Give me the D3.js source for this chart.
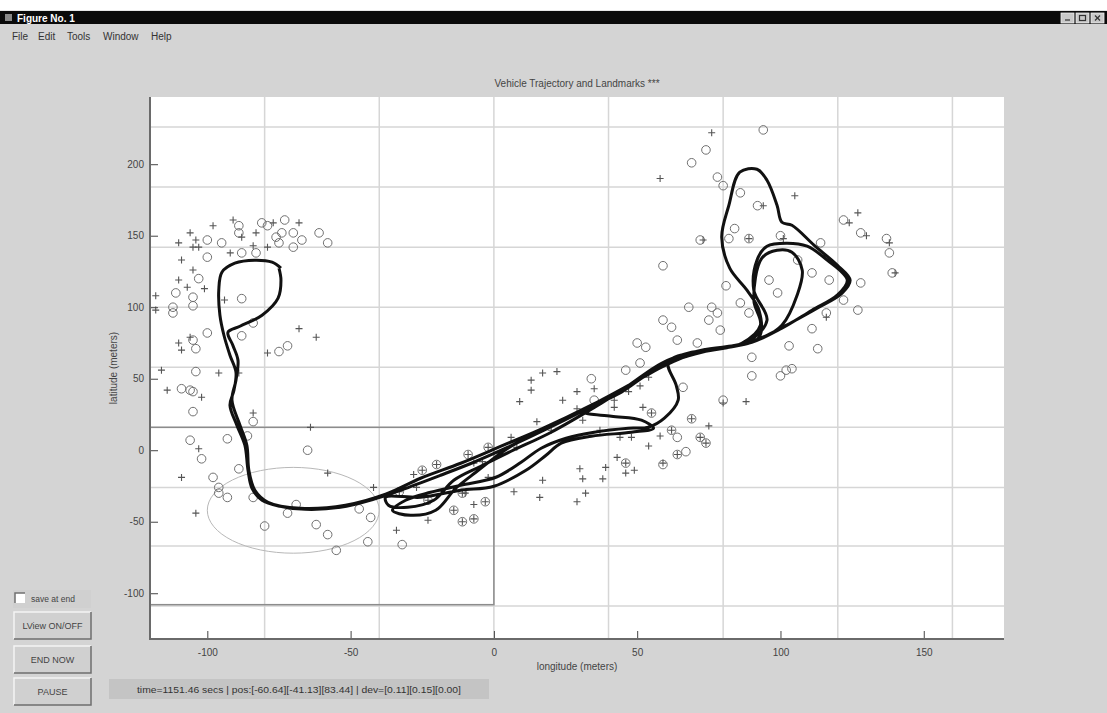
<!DOCTYPE html>
<html><head><meta charset="utf-8">
<script src="https://cdn.jsdelivr.net/npm/d3@7"></script>
<style>
html,body{margin:0;padding:0;background:#d4d4d4;}
svg{display:block;font-family:"Liberation Sans",Arial,sans-serif;}
</style></head>
<body>
<svg id="fig" width="1107" height="713"></svg>
<script>
// ---------------- data ----------------
const chartTitle = "Vehicle Trajectory and Landmarks ***";
const xLabel = "longitude (meters)";
const yLabel = "latitude (meters)";
const xTicks = [-100, -50, 0, 50, 100, 150];
const yTicks = [-100, -50, 0, 50, 100, 150, 200];
const xDomain = [-120, 178];
const yDomain = [-132, 247];
const gridX = [-80, -40, 0, 40, 80, 120, 160];
const gridY = [226, 184, 142, 100, 58, 16, -26, -67, -109];
const regionBox = {x0: -120, x1: 0, y0: -108, y1: 16};
const uncertainty = {cx: -70, cy: -42, r: 30};
const menuItems = ["File", "Edit", "Tools", "Window", "Help"];
const buttons = ["LView ON/OFF", "END NOW", "PAUSE"];
const statusText = "time=1151.46 secs | pos:[-60.64][-41.13][83.44] | dev=[0.11][0.15][0.00]";

const trajectory = [[-74.3,127.3],[-77.4,131.5],[-83.4,132.9],[-90.4,130.8],[-94.9,124.5],[-96.0,111.9],[-95.6,94.4],[-94.2,80.4],[-92.1,66.4],[-90.0,54.5],[-90.7,42.0],[-92.1,31.5],[-89.7,17.5],[-86.9,3.5],[-85.8,-14.0],[-84.4,-26.6],[-80.9,-35.0],[-74.6,-39.2],[-65.8,-41.3],[-53.6,-39.9],[-42.0,-34.3],[-32.6,-28.0],[-18.6,-17.5],[-7.0,-8.4],[4.9,2.1],[17.5,14.0],[31.5,28.0],[44.5,42.0],[58.5,60.8],[69.0,68.5],[82.0,72.0],[92.5,79.0],[92.5,97.9],[88.3,111.9],[82.3,127.3],[79.5,149.0],[82.0,171.3],[85.8,194.4],[91.8,196.5],[95.3,188.8],[98.8,171.3],[100.5,159.4],[104.0,157.3],[111.7,143.4],[119.8,129.4],[124.3,118.9],[121.5,109.8],[112.8,99.3],[104.0,89.5],[95.3,80.4],[86.5,74.1],[72.5,69.9],[60.9,61.5],[63.6,45.5],[64.3,35.0],[59.5,22.4],[53.9,16.1],[46.9,15.4],[35.0,12.6],[25.2,8.4],[16.5,1.4],[9.5,-8.4],[0.7,-18.9],[-11.6,-24.5],[-22.1,-29.4],[-30.8,-35.0],[-35.4,-42.0],[-29.1,-45.5],[-20.3,-42.0],[-13.3,-26.6],[-6.3,-15.4],[4.9,1.4],[18.2,15.4],[32.2,29.4],[46.2,44.1],[59.2,61.5],[72.5,69.9],[88.3,75.5],[95.3,90.9],[90.7,111.9],[91.8,132.9],[95.3,142.7],[102.3,144.8],[109.3,142.7],[116.3,132.9],[123.3,118.9],[119.8,108.4],[111.0,97.9],[100.5,85.3],[90.0,75.5],[72.5,68.5],[58.5,59.4],[51.5,50.3],[44.5,40.6],[34.0,30.1],[31.5,26.6],[41.0,23.8],[51.5,21.0],[55.7,15.4],[48.0,12.6],[34.0,9.8],[23.5,4.9],[18.2,-3.5],[11.2,-14.0],[0,-25.2],[-11.6,-28.0],[-25.6,-32.9],[-37.8,-32.9],[-36.8,-38.5],[-30.1,-39.9],[-21.0,-35.0],[-14.0,-21.0],[-4.6,-11.2],[6.0,-0.7],[20.0,12.6],[37.5,32.9],[55.0,54.5],[69.0,67.1],[86.5,74.8],[93.0,87.4],[90.7,104.9],[93.5,134.3],[98.8,139.9],[104.0,138.5],[107.6,125.9],[105.8,108.4],[100.5,87.4],[93.5,78.3],[79.5,71.3],[65.5,65.0],[51.5,50.3],[34.0,31.5],[16.5,14.7],[2.5,2.8],[-11.6,-9.1],[-25.6,-19.6],[-37.8,-30.8],[-51.8,-38.5],[-67.6,-40.6],[-78.8,-36.4],[-83.4,-28.0],[-85.5,-14.0],[-86.2,3.5],[-88.6,17.5],[-91.4,35.0],[-90.0,49.0],[-89.3,62.9],[-91.1,73.4],[-92.8,82.5],[-88.6,86.7],[-80.9,94.4],[-75.3,106.3],[-74.3,118.9],[-75.0,127.3]];

const landmarkCircles = [[-89,157],[-89,152],[-81,159],[-79,157],[-73,161],[-74,152],[-70,152],[-76,149],[-75,145],[-70,142],[-67,147],[-61,152],[-58,145],[-83,138],[-88,138],[-95,145],[-100,135],[-100,147],[-103,120],[-105,107],[-105,101],[-111,110],[-112,96],[-112,100],[-88,106],[-84,89],[-100,82],[-88,80],[-104,71],[-105,77],[-72,73],[-75,69],[-104,55],[-105,41],[-109,43],[-106,42],
[-105,27],[-106,7],[-93,8],[-102,-6],[-98,-19],[-96,-26],[-93,-33],[-96,-30],[-89,-13],[-84,-33],[-65,0],[-72,-44],[-69,-38],[-80,-53],[-62,-52],[-58,-59],[-55,-70],[-44,-64],[-43,-47],[-47,-41],[-32,-66],[-84,20],[-86,10],
[-33,-29],[-25,-14],[-20,-10],[-14,-42],[-11,-50],[-7,-48],[-3,-36],[-11,-30],[-23,-35],[-2,2],[-9,-3],
[50,75],[53,72],[64,77],[71,75],[46,56],[51,61],[34,50],[66,44],[55,26],[62,14],[64,9],[69,22],[72,9],[74,5],[64,-3],[67,-1],[59,-10],[46,-9],[35,35],
[94,224],[74,210],[69,201],[78,191],[80,185],[86,180],[92,171],[122,161],[128,152],[137,148],[138,138],[139,124],[128,117],[127,98],[122,105],[116,96],[111,85],[113,71],[103,73],[102,56],[100,52],[104,57],[90,52],[90,65],[79,84],[75,91],[68,100],[62,86],[86,103],[89,96],[81,115],[96,119],[99,110],[106,133],[111,124],[117,119],[84,155],[89,148],[82,148],[72,147],[100,150],[114,145],[76,100],[78,96],[80,35],[59,129],[59,91]];

const landmarkPluses = [[-91,161],[-98,157],[-106,152],[-110,145],[-104,147],[-105,142],[-103,142],[-83,152],[-77,159],[-68,159],[-88,149],[-84,143],[-92,138],[-79,142],[-109,133],[-105,126],[-110,119],[-107,114],[-101,113],[-118,108],[-118,98],[-94,105],[-106,79],[-110,75],[-109,70],[-68,85],[-62,79],[-79,68],[-116,56],[-114,42],[-96,54],[-89,54],
[-102,37],[-103,1],[-109,-19],[-104,-44],[-84,26],[-64,16],[-58,-16],[-42,-26],[-34,-56],[-33,-29],[-28,-17],[-25,-14],[-20,-10],[-9,-3],[-2,2],[-4,-8],[-14,-42],[-23,-49],[-11,-50],[-7,-48],[-3,-36],[-11,-30],[-23,-35],[-27,-26],
[13,49],[17,54],[22,55],[13,42],[9,34],[24,35],[29,41],[35,43],[29,29],[42,35],[42,30],[52,30],[47,41],[51,45],[54,51],[15,20],[20,14],[31,21],[37,14],[44,9],[48,9],[58,10],[54,3],[43,-5],[39,-12],[30,-13],[31,-20],[38,-20],[46,-9],[46,-16],[49,-14],[59,-9],[17,-21],[16,-33],[7,-29],[32,-30],[29,-36],[-2,-19],[-10,-30],[-7,-38],[-7,-9],[6,9],[8,2],
[55,26],[62,14],[69,22],[72,9],[74,5],[64,-3],
[76,222],[105,178],[127,166],[124,159],[130,150],[138,145],[140,124],[58,190],[88,34],[80,33],[75,17],[116,93],[73,147],[89,148],[94,171],[101,148]];

// ---------------- layout ----------------
const svg = d3.select("#fig");
const W = 1107, H = 713;
const plot = {left: 150, right: 1004, top: 97, bottom: 639};
const x = d3.scaleLinear().domain(xDomain).range([plot.left, plot.right]);
const y = d3.scaleLinear().domain(yDomain).range([plot.bottom, plot.top]);

svg.append("rect").attr("width", W).attr("height", H).attr("fill", "#d4d4d4");

// window chrome
svg.append("rect").attr("x",0).attr("y",0).attr("width",W).attr("height",10).attr("fill","#ffffff");
svg.append("rect").attr("x",0).attr("y",10).attr("width",W).attr("height",1).attr("fill","#e6e6e6");
svg.append("rect").attr("x",0).attr("y",11).attr("width",W).attr("height",13).attr("fill","#0a0a0a");
svg.append("rect").attr("x",5).attr("y",14).attr("width",7).attr("height",7).attr("fill","#888");
svg.append("text").attr("x",17).attr("y",21.5).attr("fill","#fff").attr("font-size",10).attr("font-weight","bold").text("Figure No. 1");
[1061,1076,1091].forEach((bx,i)=>{
  svg.append("rect").attr("x",bx).attr("y",13).attr("width",13).attr("height",10).attr("fill","#c8c8c8").attr("stroke","#eee").attr("stroke-width",0.8);
  const g = svg.append("g").attr("stroke","#333").attr("stroke-width",1.2).attr("fill","none");
  if(i===0) g.append("line").attr("x1",bx+4).attr("x2",bx+9).attr("y1",20).attr("y2",20);
  if(i===1) g.append("rect").attr("x",bx+3.5).attr("y",15.5).attr("width",6).attr("height",5);
  if(i===2){ g.append("line").attr("x1",bx+4).attr("x2",bx+9).attr("y1",15.5).attr("y2",20.5); g.append("line").attr("x1",bx+9).attr("x2",bx+4).attr("y1",15.5).attr("y2",20.5);}
});
const menuX = [12, 38, 67, 103, 151];
menuItems.forEach((m,i)=>{
  svg.append("text").attr("x",menuX[i]).attr("y",40).attr("font-size",10).attr("fill","#333").text(m);
});

// plot area
svg.append("rect").attr("x",plot.left).attr("y",plot.top).attr("width",plot.right-plot.left).attr("height",plot.bottom-plot.top).attr("fill","#ffffff");

const defs = svg.append("defs");
defs.append("clipPath").attr("id","clip").append("rect").attr("x",plot.left).attr("y",plot.top).attr("width",plot.right-plot.left).attr("height",plot.bottom-plot.top);
const pg = svg.append("g").attr("clip-path","url(#clip)");

// grid
pg.selectAll("line.gx").data(gridX).join("line").attr("class","gx")
  .attr("x1",d=>x(d)).attr("x2",d=>x(d)).attr("y1",plot.top).attr("y2",plot.bottom)
  .attr("stroke","#d6d6d6").attr("stroke-width",1.5);
pg.selectAll("line.gy").data(gridY).join("line").attr("class","gy")
  .attr("y1",d=>y(d)).attr("y2",d=>y(d)).attr("x1",plot.left).attr("x2",plot.right)
  .attr("stroke","#d6d6d6").attr("stroke-width",1.5);

// region box
pg.append("rect").attr("x",x(regionBox.x0)).attr("y",y(regionBox.y1))
  .attr("width",x(regionBox.x1)-x(regionBox.x0)).attr("height",y(regionBox.y0)-y(regionBox.y1))
  .attr("fill","none").attr("stroke","#8c8c8c").attr("stroke-width",1.5);

// uncertainty ellipse
pg.append("ellipse").attr("cx",x(uncertainty.cx)).attr("cy",y(uncertainty.cy))
  .attr("rx",x(uncertainty.cx+uncertainty.r)-x(uncertainty.cx))
  .attr("ry",y(uncertainty.cy)-y(uncertainty.cy+uncertainty.r))
  .attr("fill","none").attr("stroke","#b8b8b8").attr("stroke-width",1);

// landmarks
pg.selectAll("circle.lm").data(landmarkCircles).join("circle").attr("class","lm")
  .attr("cx",d=>x(d[0])).attr("cy",d=>y(d[1])).attr("r",4.3)
  .attr("fill","none").attr("stroke","#707070").attr("stroke-width",1);
const ps = 3.5;
pg.selectAll("path.pl").data(landmarkPluses).join("path").attr("class","pl")
  .attr("d",d=>{const cx=x(d[0]), cy=y(d[1]); return `M${cx-ps},${cy}H${cx+ps}M${cx},${cy-ps}V${cy+ps}`;})
  .attr("stroke","#555").attr("stroke-width",1.1).attr("fill","none");

// trajectory
pg.append("path").datum(trajectory)
  .attr("d", d3.line().x(d=>x(d[0])).y(d=>y(d[1])).curve(d3.curveCatmullRom.alpha(0.5)))
  .attr("fill","none").attr("stroke","#111").attr("stroke-width",3).attr("stroke-linejoin","round");

// axes
const axL = d3.axisLeft(y).tickValues(yTicks).tickSizeInner(-8).tickSizeOuter(0).tickPadding(6).tickFormat(d=>String(d));
const gL = svg.append("g").attr("transform",`translate(${plot.left},0)`).call(axL);
const axB = d3.axisBottom(x).tickValues(xTicks).tickSizeInner(-8).tickSizeOuter(0).tickPadding(10).tickFormat(d=>String(d));
const gB = svg.append("g").attr("transform",`translate(0,${plot.bottom})`).call(axB);
[gL,gB].forEach(g=>{
  g.select(".domain").remove();
  g.selectAll(".tick line").attr("stroke","#444").attr("stroke-width",1);
  g.selectAll(".tick text").attr("fill","#444").attr("font-size",10).attr("font-family","'Liberation Sans',Arial,sans-serif");
});
svg.append("line").attr("x1",plot.left).attr("x2",plot.left).attr("y1",plot.top).attr("y2",plot.bottom+1)
  .attr("stroke","#6a6a6a").attr("stroke-width",2);
svg.append("line").attr("x1",plot.left-1).attr("x2",plot.right).attr("y1",plot.bottom).attr("y2",plot.bottom)
  .attr("stroke","#6a6a6a").attr("stroke-width",2);

// titles
svg.append("text").attr("x",(plot.left+plot.right)/2).attr("y",87).attr("text-anchor","middle")
  .attr("font-size",10).attr("fill","#444").text(chartTitle);
svg.append("text").attr("x",(plot.left+plot.right)/2).attr("y",670).attr("text-anchor","middle")
  .attr("font-size",10).attr("fill","#444").text(xLabel);
svg.append("text").attr("transform",`translate(117,${(plot.top+plot.bottom)/2}) rotate(-90)`).attr("text-anchor","middle")
  .attr("font-size",10).attr("fill","#444").text(yLabel);

// controls
function bevel(x0,y0,w,h,raised){
  svg.append("rect").attr("x",x0).attr("y",y0).attr("width",w).attr("height",h).attr("fill","#d0d0d0");
  svg.append("path").attr("d",`M${x0},${y0+h}V${y0}H${x0+w}`).attr("stroke",raised?"#f4f4f4":"#808080").attr("fill","none").attr("stroke-width",1.5);
  svg.append("path").attr("d",`M${x0},${y0+h}H${x0+w}V${y0}`).attr("stroke",raised?"#6e6e6e":"#f4f4f4").attr("fill","none").attr("stroke-width",1.5);
}
// checkbox
svg.append("rect").attr("x",13).attr("y",590).attr("width",78).attr("height",18).attr("fill","#d0d0d0");
svg.append("rect").attr("x",15).attr("y",593).attr("width",10).attr("height",10).attr("fill","#ffffff");
svg.append("path").attr("d","M15,603V593H25").attr("stroke","#707070").attr("fill","none").attr("stroke-width",1.5);
svg.append("text").attr("x",31).attr("y",602).attr("font-size",8.5).attr("fill","#444").text("save at end");
const btnY = [612, 646, 678];
buttons.forEach((b,i)=>{
  bevel(14, btnY[i], 77, 27, true);
  svg.append("text").attr("x",52.5).attr("y",btnY[i]+17).attr("text-anchor","middle").attr("font-size",9).attr("fill","#444").text(b);
});
// status
svg.append("rect").attr("x",109).attr("y",679).attr("width",380).attr("height",20).attr("fill","#c4c4c4");
svg.append("text").attr("x",137).attr("y",693).attr("font-size",9).attr("fill","#333")
  .attr("textLength",324).attr("lengthAdjust","spacingAndGlyphs").text(statusText);
</script>
</body></html>
